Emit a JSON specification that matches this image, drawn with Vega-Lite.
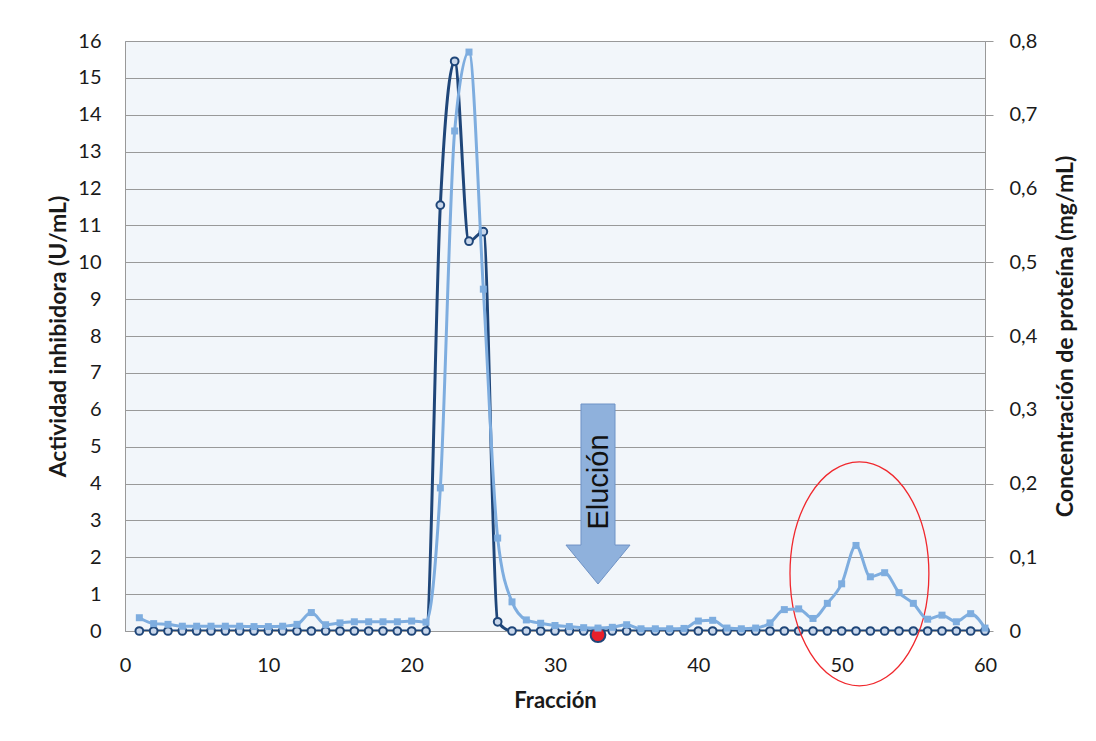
{
  "$schema": "https://vega.github.io/schema/vega-lite/v6.json",
  "width": 860,
  "height": 590,
  "autosize": {"type": "none"},
  "padding": {"left": 125, "top": 41, "right": 111, "bottom": 110},
  "background": "white",
  "config": {
    "view": {"fill": "#F2F6FA", "stroke": "#8EB4E3", "strokeWidth": 1},
    "font": "Lato",
    "axis": {"labelFont": "Lato", "titleFont": "Lato", "labelColor": "#1a1a1a", "titleColor": "#1a1a1a", "labelFlush": false, "labelOverlap": false}
  },
  "datasets": {
    "fracciones": [
      {"fraccion": 1, "actividad": 0, "proteina": 0.018},
      {"fraccion": 2, "actividad": 0, "proteina": 0.010},
      {"fraccion": 3, "actividad": 0, "proteina": 0.009},
      {"fraccion": 4, "actividad": 0, "proteina": 0.0065},
      {"fraccion": 5, "actividad": 0, "proteina": 0.0065},
      {"fraccion": 6, "actividad": 0, "proteina": 0.0065},
      {"fraccion": 7, "actividad": 0, "proteina": 0.0065},
      {"fraccion": 8, "actividad": 0, "proteina": 0.0065},
      {"fraccion": 9, "actividad": 0, "proteina": 0.006},
      {"fraccion": 10, "actividad": 0, "proteina": 0.006},
      {"fraccion": 11, "actividad": 0, "proteina": 0.0065},
      {"fraccion": 12, "actividad": 0, "proteina": 0.009},
      {"fraccion": 13, "actividad": 0, "proteina": 0.025},
      {"fraccion": 14, "actividad": 0, "proteina": 0.0085},
      {"fraccion": 15, "actividad": 0, "proteina": 0.011},
      {"fraccion": 16, "actividad": 0, "proteina": 0.0125},
      {"fraccion": 17, "actividad": 0, "proteina": 0.0125},
      {"fraccion": 18, "actividad": 0, "proteina": 0.0125},
      {"fraccion": 19, "actividad": 0, "proteina": 0.0125},
      {"fraccion": 20, "actividad": 0, "proteina": 0.0135},
      {"fraccion": 21, "actividad": 0, "proteina": 0.012},
      {"fraccion": 22, "actividad": 11.55, "proteina": 0.194},
      {"fraccion": 23, "actividad": 15.45, "proteina": 0.678},
      {"fraccion": 24, "actividad": 10.57, "proteina": 0.785},
      {"fraccion": 25, "actividad": 10.83, "proteina": 0.4635},
      {"fraccion": 26, "actividad": 0.25, "proteina": 0.126},
      {"fraccion": 27, "actividad": 0, "proteina": 0.0395},
      {"fraccion": 28, "actividad": 0, "proteina": 0.015},
      {"fraccion": 29, "actividad": 0, "proteina": 0.0105},
      {"fraccion": 30, "actividad": 0, "proteina": 0.0075},
      {"fraccion": 31, "actividad": 0, "proteina": 0.006},
      {"fraccion": 32, "actividad": 0, "proteina": 0.0045},
      {"fraccion": 33, "actividad": 0, "proteina": 0.004},
      {"fraccion": 34, "actividad": 0, "proteina": 0.005},
      {"fraccion": 35, "actividad": 0, "proteina": 0.0085},
      {"fraccion": 36, "actividad": 0, "proteina": 0.003},
      {"fraccion": 37, "actividad": 0, "proteina": 0.003},
      {"fraccion": 38, "actividad": 0, "proteina": 0.003},
      {"fraccion": 39, "actividad": 0, "proteina": 0.0035},
      {"fraccion": 40, "actividad": 0, "proteina": 0.0135},
      {"fraccion": 41, "actividad": 0, "proteina": 0.0145},
      {"fraccion": 42, "actividad": 0, "proteina": 0.004},
      {"fraccion": 43, "actividad": 0, "proteina": 0.003},
      {"fraccion": 44, "actividad": 0, "proteina": 0.004},
      {"fraccion": 45, "actividad": 0, "proteina": 0.011},
      {"fraccion": 46, "actividad": 0, "proteina": 0.029},
      {"fraccion": 47, "actividad": 0, "proteina": 0.030},
      {"fraccion": 48, "actividad": 0, "proteina": 0.017},
      {"fraccion": 49, "actividad": 0, "proteina": 0.0375},
      {"fraccion": 50, "actividad": 0, "proteina": 0.064},
      {"fraccion": 51, "actividad": 0, "proteina": 0.116},
      {"fraccion": 52, "actividad": 0, "proteina": 0.0735},
      {"fraccion": 53, "actividad": 0, "proteina": 0.079},
      {"fraccion": 54, "actividad": 0, "proteina": 0.052},
      {"fraccion": 55, "actividad": 0, "proteina": 0.0375},
      {"fraccion": 56, "actividad": 0, "proteina": 0.016},
      {"fraccion": 57, "actividad": 0, "proteina": 0.0215},
      {"fraccion": 58, "actividad": 0, "proteina": 0.0125},
      {"fraccion": 59, "actividad": 0, "proteina": 0.0235},
      {"fraccion": 60, "actividad": 0, "proteina": 0.004}
    ],
    "flecha": [{"fraccion": 33, "actividad": 3.715}],
    "rotulo": [{"fraccion": 33.07, "actividad": 4.04, "texto": "Elución"}],
    "punto": [{"fraccion": 33, "actividad": -0.1}],
    "elipse": [{"fraccion": 51.24, "actividad": 1.55}]
  },
  "layer": [
    {
      "encoding": {
        "x": {"field": "fraccion", "type": "quantitative", "title": "Fracción",
              "scale": {"domain": [0, 60], "nice": false, "zero": false},
              "axis": {"values": [0, 10, 20, 30, 40, 50, 60], "ticks": false, "grid": false,
                       "domainColor": "#999999", "labelFontSize": 20, "labelPadding": 24,
                       "titleFontSize": 22, "titleFontWeight": "bold", "titlePadding": 15}},
        "y": {"field": "actividad", "type": "quantitative", "title": "Actividad inhibidora (U/mL)",
              "scale": {"domain": [0, 16], "nice": false},
              "axis": {"orient": "left", "values": [0, 1, 2, 3, 4, 5, 6, 7, 8, 9, 10, 11, 12, 13, 14, 15, 16],
                       "ticks": false, "grid": true, "gridColor": "#999999", "gridWidth": 1,
                       "domainColor": "#999999", "labelFontSize": 20, "labelPadding": 24,
                       "titleFontSize": 23, "titleFontWeight": "bold", "titlePadding": 7}}
      },
      "layer": [
        {
          "data": {"name": "fracciones"},
          "mark": {"type": "line", "interpolate": "monotone", "color": "#1F4679", "strokeWidth": 3, "clip": true}
        },
        {
          "data": {"name": "fracciones"},
          "mark": {"type": "point", "shape": "circle", "filled": true, "fill": "#C9D7EB", "stroke": "#1F4679", "strokeWidth": 2, "size": 60, "opacity": 1}
        },
        {
          "data": {"name": "flecha"},
          "mark": {"type": "point", "shape": "M -0.189 -1 L 0.189 -1 L 0.189 0.567 L 0.356 0.567 L 0 1 L -0.356 0.567 L -0.189 0.567 Z",
                   "filled": true, "fill": "#8FB1DC", "stroke": "#6F93C6", "strokeWidth": 1, "size": 32400, "opacity": 1}
        },
        {
          "data": {"name": "rotulo"},
          "mark": {"type": "text", "font": "Liberation Sans", "fontSize": 29, "angle": 270, "align": "center", "baseline": "middle", "color": "#111111"},
          "encoding": {"text": {"field": "texto"}}
        },
        {
          "data": {"name": "punto"},
          "mark": {"type": "point", "shape": "circle", "filled": true, "fill": "#E8202A", "stroke": "#1F4679", "strokeWidth": 2, "size": 220, "opacity": 1}
        },
        {
          "data": {"name": "elipse"},
          "mark": {"type": "point", "shape": "M -0.62 0 A 0.62 1 0 1 1 0.62 0 A 0.62 1 0 1 1 -0.62 0 Z",
                   "filled": false, "stroke": "#F0282D", "strokeWidth": 1.3, "size": 50176, "opacity": 1}
        }
      ]
    },
    {
      "data": {"name": "fracciones"},
      "encoding": {
        "x": {"field": "fraccion", "type": "quantitative", "title": "Fracción"},
        "y": {"field": "proteina", "type": "quantitative", "title": "Concentración de proteína (mg/mL)",
              "scale": {"domain": [0, 0.8], "nice": false},
              "axis": {"orient": "right", "values": [0, 0.1, 0.2, 0.3, 0.4, 0.5, 0.6, 0.7, 0.8],
                       "labelExpr": "datum.value == 0 ? '0' : replace(format(datum.value, '.1f'), '.', ',')",
                       "grid": false, "tickSize": 8, "tickColor": "#999999", "domainColor": "#999999",
                       "labelFontSize": 20, "labelPadding": 16, "titleFontSize": 23,
                       "titleFontWeight": "bold", "titleAngle": 270, "titlePadding": 41}}
      },
      "layer": [
        {"mark": {"type": "line", "interpolate": "monotone", "color": "#7EADDF", "strokeWidth": 3, "clip": true}},
        {"mark": {"type": "point", "shape": "square", "filled": true, "color": "#7EADDF", "size": 49, "opacity": 1}}
      ]
    }
  ],
  "resolve": {"scale": {"y": "independent"}, "axis": {"y": "independent"}}
}
